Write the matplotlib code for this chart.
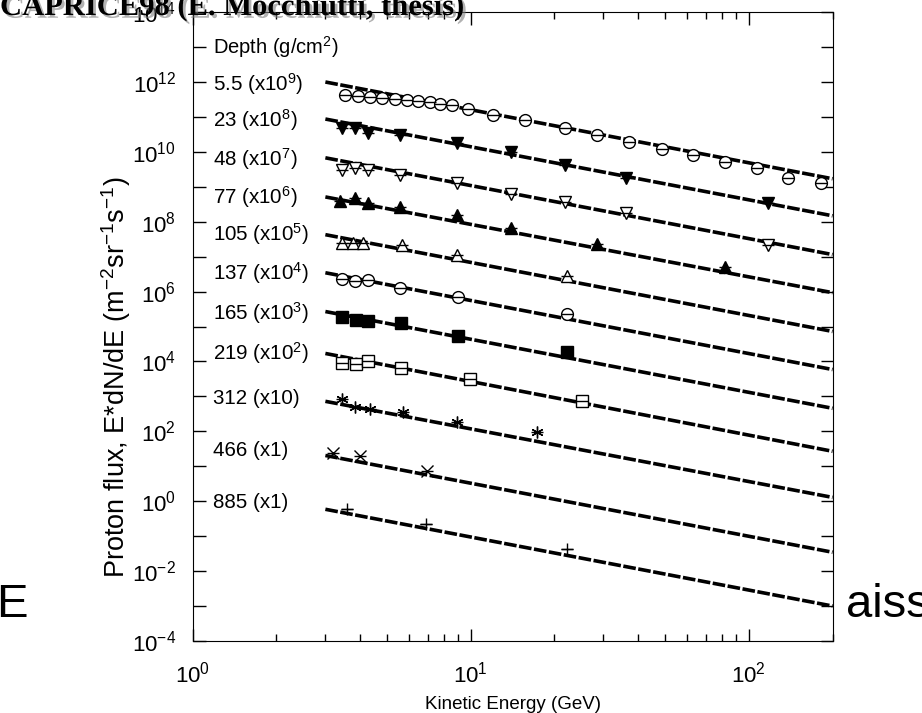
import matplotlib
matplotlib.use("Agg")
import matplotlib.pyplot as plt
import matplotlib.patheffects as pe
import numpy as np

plt.rcParams['font.family'] = ['Liberation Sans', 'DejaVu Sans']
plt.rcParams['mathtext.fontset'] = 'custom'
plt.rcParams['mathtext.rm'] = 'Liberation Sans'
plt.rcParams['mathtext.it'] = 'Liberation Sans:italic'
plt.rcParams['mathtext.bf'] = 'Liberation Sans:bold'

# fit lines: log10 flux at 3 GeV and at 200 GeV (already scaled)
line_E = [3.0, 200.0]
line_start = [12.0, 10.94, 9.83, 8.71, 7.63, 6.54, 5.43, 4.23, 2.86, 1.31, -0.23]
line_end = [9.23, 8.17, 7.06, 5.97, 4.86, 3.77, 2.66, 1.43, 0.11, -1.46, -3.0]

# measured points (E in GeV, log10 flux)
E1 = [3.52, 3.92, 4.33, 4.78, 5.33, 5.88, 6.45, 7.12, 7.73, 8.55, 9.75, 12.0, 15.7, 21.8, 28.4, 37.0, 48.6, 62.9, 82.0, 107, 138, 182]
F1 = [11.63, 11.60, 11.57, 11.54, 11.51, 11.49, 11.46, 11.43, 11.37, 11.34, 11.23, 11.06, 10.91, 10.69, 10.49, 10.29, 10.09, 9.91, 9.71, 9.54, 9.26, 9.11]
E2 = [3.44, 3.83, 4.26, 5.55, 8.91, 14.0, 21.8, 36.3, 117]
F2 = [10.69, 10.69, 10.54, 10.49, 10.26, 10.0, 9.63, 9.26, 8.54]
E3 = [3.44, 3.83, 4.26, 5.55, 8.91, 14.0, 21.8, 36.3, 117]
F3 = [9.49, 9.54, 9.49, 9.34, 9.11, 8.80, 8.57, 8.26, 7.34]
E4 = [3.38, 3.83, 4.26, 5.55, 8.91, 14.0, 28.4, 82.0]
F4 = [8.60, 8.69, 8.54, 8.43, 8.20, 7.83, 7.37, 6.71]
E5 = [3.44, 3.76, 4.09, 5.65, 8.91, 22.2]
F5 = [7.40, 7.40, 7.40, 7.34, 7.06, 6.46]
E6 = [3.44, 3.83, 4.26, 5.55, 8.98, 22.2]
F6 = [6.37, 6.29, 6.34, 6.11, 5.86, 5.37]
E7 = [3.44, 3.86, 4.26, 5.60, 8.98, 22.2]
F7 = [5.26, 5.20, 5.17, 5.11, 4.74, 4.26]
E8 = [3.44, 3.86, 4.26, 5.60, 9.91, 25.1]
F8 = [3.97, 3.94, 4.00, 3.80, 3.49, 2.86]
E9 = [3.44, 3.83, 4.33, 5.69, 8.91, 17.3]
F9 = [2.94, 2.69, 2.63, 2.54, 2.26, 1.97]
E10 = [3.19, 3.99, 6.94]
F10 = [1.37, 1.29, 0.86]
E11 = [3.58, 6.89, 22.2]
F11 = [-0.23, -0.66, -1.37]

labels = ['5.5 (x10$^{9}$)', '23 (x10$^{8}$)', '48 (x10$^{7}$)', '77 (x10$^{6}$)',
          '105 (x10$^{5}$)', '137 (x10$^{4}$)', '165 (x10$^{3}$)', '219 (x10$^{2}$)',
          '312 (x10)', '466 (x1)', '885 (x1)']
label_y = [11.94, 10.91, 9.8, 8.71, 7.66, 6.54, 5.4, 4.23, 2.94, 1.46, -0.03]

fig = plt.figure(figsize=(9.22, 7.13), dpi=100)
ax = fig.add_axes([0.209, 0.101, 0.694, 0.882])

for a, b in zip(line_start, line_end):
    ax.plot(line_E, [10**a, 10**b], color='black', lw=2.6, dashes=(3.5, 0.7), zorder=2)

styles = [
    (E1, F1, 'o', 'white'), (E2, F2, 'v', 'black'), (E3, F3, 'v', 'white'),
    (E4, F4, '^', 'black'), (E5, F5, '^', 'white'), (E6, F6, 'o', 'white'),
    (E7, F7, 's', 'black'), (E8, F8, 's', 'white'), (E9, F9, (6, 2, 0), 'black'),
    (E10, F10, 'x', 'black'), (E11, F11, '+', 'black'),
]
for E, F, m, fc in styles:
    y = 10**np.array(F)
    ax.plot(E, y, ls='none', marker=m, ms=8.5, mfc=fc, mec='black', mew=1.0, zorder=3)
    ax.plot(E, y, ls='none', marker='_', ms=8, mec='black', mew=1.0, zorder=4)

ax.text(1.18, 10**13.0, 'Depth (g/cm$^2$)', fontsize=14.5, va='center')
for lab, yy in zip(labels, label_y):
    ax.text(1.18, 10**yy, lab, fontsize=14.8, va='center')

ax.set_xscale('log')
ax.set_yscale('log')
ax.set_xlim(1, 200)
ax.set_ylim(1e-4, 1e14)
ax.set_yticks(10.0**np.arange(-4, 15))
ax.set_yticklabels(['10$^{%d}$' % e if e % 2 == 0 else '' for e in range(-4, 15)])
ax.set_xticks([1, 10, 100])
ax.set_xticklabels(['10$^{0}$', '10$^{1}$', '10$^{2}$'])
ax.tick_params(which='both', direction='in', top=True, right=True, labelsize=16)
ax.tick_params(which='major', length=9, width=1)
ax.tick_params(which='minor', length=5, width=1)
ax.tick_params(axis='x', pad=15)
ax.tick_params(axis='y', pad=12)
ax.set_xlabel('Kinetic Energy (GeV)', fontsize=13.5, labelpad=6)
ax.set_ylabel('Proton flux, E*dN/dE (m$^{-2}$sr$^{-1}$s$^{-1}$)', fontsize=19.5)
ax.yaxis.set_label_coords(-0.094, 0.42)

fig.text(0.0, 0.979, 'CAPRICE98 (E. Mocchiutti, thesis)', fontsize=22, fontweight='bold',
         family='Liberation Serif', va='baseline', ha='left',
         path_effects=[pe.withSimplePatchShadow(offset=(2, -2), shadow_rgbFace='gray', alpha=0.6)])
fig.text(-0.004, 0.152, 'E', fontsize=34, va='center', ha='left')
fig.text(0.918, 0.152, 'aiss', fontsize=34, va='center', ha='left')

fig.savefig('out.png', dpi=100)
